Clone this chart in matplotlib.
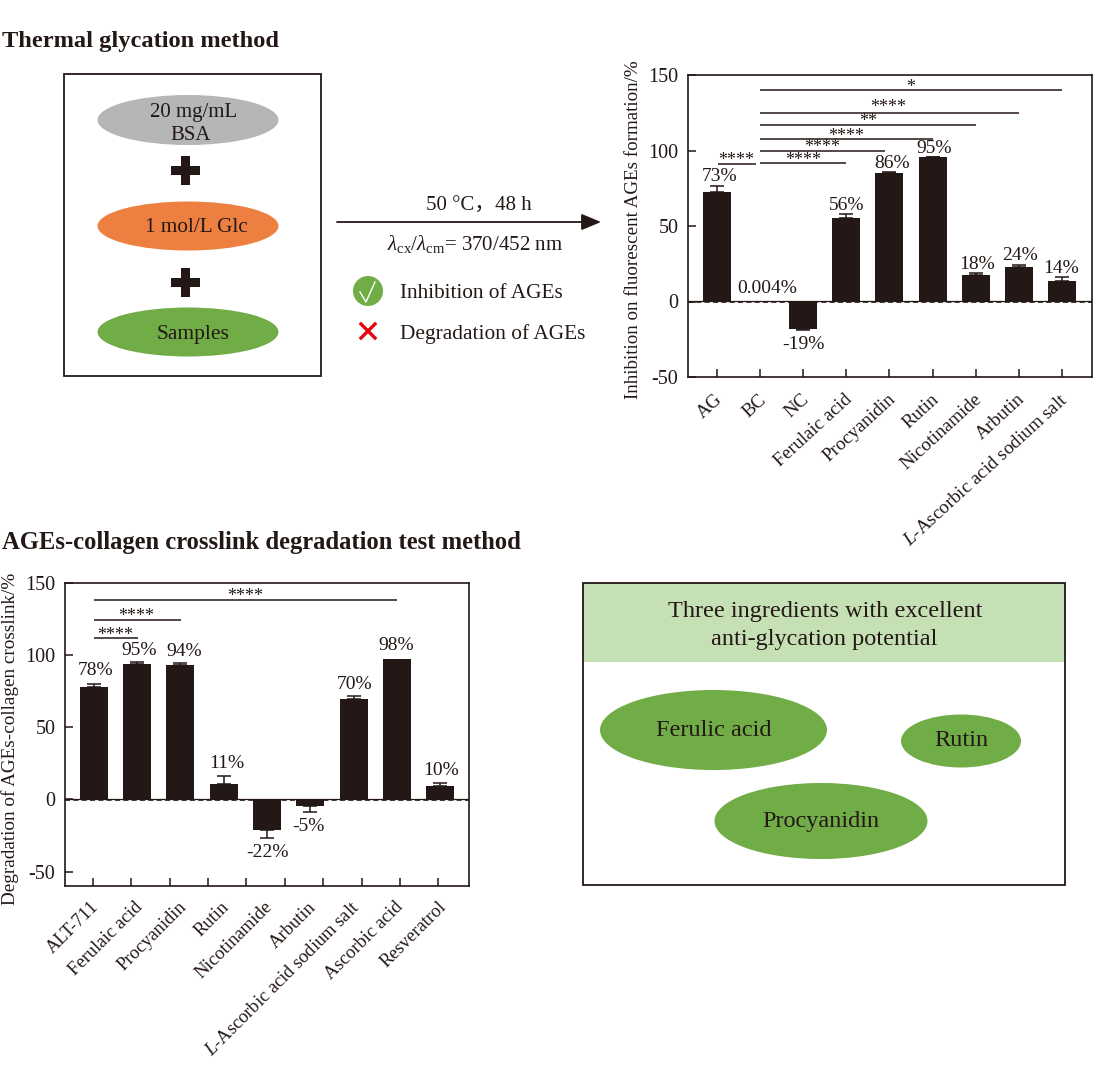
import numpy as np
import matplotlib
matplotlib.use("Agg")
import matplotlib.pyplot as plt
from matplotlib.patches import Ellipse, Rectangle, Circle
from matplotlib.transforms import ScaledTranslation

plt.rcParams['font.family'] = ['Liberation Serif', 'Noto Sans CJK SC', 'DejaVu Sans']
plt.rcParams['mathtext.fontset'] = 'custom'
plt.rcParams['mathtext.rm'] = 'Liberation Serif'
plt.rcParams['mathtext.it'] = 'Liberation Serif:italic'
plt.rcParams['mathtext.bf'] = 'Liberation Serif:bold'
plt.rcParams['axes.unicode_minus'] = False

DARK = '#231815'
GREEN = '#70ad47'
ORANGE = '#ed8040'
GREY = '#b5b6b6'
LIGHT_GREEN = '#c5e0b4'
RED = '#e60012'

# top chart
inh_labels = ['AG', 'BC', 'NC', 'Ferulaic acid', 'Procyanidin', 'Rutin', 'Nicotinamide', 'Arbutin',
              r'$\mathit{L}$-Ascorbic acid sodium salt']
inh_values = [72.5, 0, -18.5, 55.3, 85.2, 95.4, 17.4, 23.1, 13.4]
inh_err = [4.2, 0, 0.7, 2.7, 0.8, 0.4, 1.6, 1.3, 2.9]
inh_text = ['73%', '0.004%', '-19%', '56%', '86%', '95%', '18%', '24%', '14%']
inh_text_x = [0.06, 1.18, 2.01, 3.01, 4.07, 5.03, 6.02, 7.03, 7.97]
inh_text_y = [83, 8.5, -28.5, 63.5, 91.5, 101, 24.5, 30.5, 22]
# significance brackets: x0, x1, line y, star x, star y, stars
inh_sig_x0 = [0.02, 1, 1, 1, 1, 1, 1]
inh_sig_x1 = [0.9, 3, 3.9, 5, 6, 7, 8]
inh_sig_y = [91, 91.6, 100, 107.5, 116.7, 125, 139.9]
inh_sig_tx = [0.46, 2.0, 2.45, 3.0, 3.5, 3.98, 4.5]
inh_sig_ty = [93.5, 93.5, 102, 109.5, 119, 128.5, 141.5]
inh_sig_s = ['****', '****', '****', '****', '**', '****', '*']

# bottom chart
deg_labels = ['ALT-711', 'Ferulaic acid', 'Procyanidin', 'Rutin', 'Nicotinamide', 'Arbutin',
              r'$\mathit{L}$-Ascorbic acid sodium salt', 'Ascorbic acid', 'Resveratrol']
deg_values = [77.4, 93.8, 92.9, 10.8, -21.2, -4.4, 69.1, 97, 9.2]
deg_err = [2.6, 1.2, 1.6, 5.6, 5.8, 4.6, 2.3, 0, 1.8]
deg_text = ['78%', '95%', '94%', '11%', '-22%', '-5%', '70%', '98%', '10%']
deg_text_x = [0.04, 1.05, 2.09, 3.06, 4.0, 4.95, 6.02, 6.99, 8.02]
deg_text_y = [89, 103, 102.5, 25, -37, -18.5, 79.5, 106.5, 20]
deg_sig_x1 = [1.03, 2.02, 7.0]
deg_sig_y = [111.5, 124.2, 137.8]
deg_sig_tx = [0.49, 0.98, 3.5]
deg_sig_ty = [113.5, 126.5, 140]
deg_ticks = np.arange(10) * 0.886 - 0.02

W, H = 1100, 1073
fig = plt.figure(figsize=(W / 100, H / 100), dpi=100)

# whole-figure overlay in pixel coordinates for the schematic parts
bg = fig.add_axes([0, 0, 1, 1])
bg.set_xlim(0, W)
bg.set_ylim(H, 0)
bg.axis('off')


def make_axes(left, top, right, bottom):
    return fig.add_axes([left / W, 1 - bottom / H, (right - left) / W, (bottom - top) / H])


def draw_bars(ax, values, err, text, text_x, text_y):
    x = np.arange(len(values))
    ax.bar(x, values, width=0.65, color=DARK, zorder=2)
    # zero line: thin solid one with a dashed one right under it
    ax.axhline(0.3, color=DARK, lw=0.9, zorder=3)
    ax.axhline(-0.3, color=DARK, lw=1.2, ls=(0, (3, 2)), zorder=3)
    v = np.array(values)
    e = np.array(err)
    lower = np.where(v < 0, e, 0)
    upper = np.where(v >= 0, e, 0)
    keep = e > 0
    ax.errorbar(x[keep], v[keep], yerr=[lower[keep], upper[keep]], fmt='none', ecolor=DARK,
                elinewidth=1.1, capsize=5, capthick=1.1, zorder=2)
    for tx, ty, s in zip(text_x, text_y, text):
        ax.text(tx, ty, s, ha='center', va='center', fontsize=14, color=DARK)
    ax.set_yticks([-50, 0, 50, 100, 150])
    ax.tick_params(axis='y', direction='in', length=6, width=1.1, labelsize=14.5, colors=DARK, pad=7)
    for sp in ax.spines.values():
        sp.set_linewidth(1.2)
        sp.set_color(DARK)


def draw_sig(ax, x0, x1, y, tx, ty, s):
    for a, b, c, d, e, f in zip(x0, x1, y, tx, ty, s):
        ax.plot([a, b], [c, c], color=DARK, lw=1.1, solid_capstyle='butt', zorder=3)
        ax.text(d, e, f, ha='center', va='center', fontsize=13, color=DARK)


def shift_labels(ax, dx):
    # move rotated labels sideways, dx in pixels
    off = ScaledTranslation(dx / 100, 0, fig.dpi_scale_trans)
    for lab in ax.get_xticklabels():
        lab.set_transform(lab.get_transform() + off)


ax1 = make_axes(688, 75, 1092, 377)
draw_bars(ax1, inh_values, inh_err, inh_text, inh_text_x, inh_text_y)
draw_sig(ax1, inh_sig_x0, inh_sig_x1, inh_sig_y, inh_sig_tx, inh_sig_ty, inh_sig_s)
ax1.set_xlim(-0.664, 8.69)
ax1.set_ylim(-50, 150)
ax1.set_xticks(np.arange(9))
ax1.set_xticklabels(inh_labels, rotation=42.5, ha='right', va='top', rotation_mode='anchor', fontsize=13.7, color=DARK)
ax1.tick_params(axis='x', direction='in', length=6, width=1.1, pad=10, colors=DARK)
shift_labels(ax1, -2)

ax2 = make_axes(65, 582.5, 469, 886)
draw_bars(ax2, deg_values, deg_err, deg_text, deg_text_x, deg_text_y)
draw_sig(ax2, [0] * 3, deg_sig_x1, deg_sig_y, deg_sig_tx, deg_sig_ty, ['****'] * 3)
ax2.set_xlim(-0.662, 8.66)
ax2.set_ylim(-60, 150)
# the tick marks in the figure do not sit under the bars, the labels do
ax2.set_xticks(np.arange(9))
ax2.set_xticklabels(deg_labels, rotation=45, ha='right', va='top', rotation_mode='anchor', fontsize=13.3, color=DARK)
ax2.set_xticks(deg_ticks, minor=True)
ax2.xaxis.remove_overlapping_locs = False
ax2.tick_params(axis='x', which='major', length=0, pad=9, colors=DARK)
ax2.tick_params(axis='x', which='minor', direction='in', length=6, width=1.1, colors=DARK)
shift_labels(ax2, -3)

bg.text(634, 229.5, 'Inhibition on fluorescent AGEs formation/%', rotation=90, ha='center', va='center',
        fontsize=13.7, color=DARK)
bg.text(10, 739, 'Degradation of AGEs-collagen crosslink/%', rotation=90, ha='center', va='center',
        fontsize=13.8, color=DARK)

# section titles
bg.text(2, 41, 'Thermal glycation method', fontsize=17.6, fontweight='bold', va='center', color=DARK)
bg.text(2, 543, 'AGEs-collagen crosslink degradation test method', fontsize=17.7, fontweight='bold',
        va='center', color=DARK)

# reaction box
bg.add_patch(Rectangle((63.5, 74), 257.5, 302, fc='none', ec=DARK, lw=1.3))
for cy, h, c in zip([120, 226, 332], [50, 49, 49], [GREY, ORANGE, GREEN]):
    bg.add_patch(Ellipse((188, cy), 181, h, fc=c, ec='none'))
for cy in [170, 282]:
    bg.add_patch(Rectangle((171, cy - 4.5), 29, 9, fc=DARK, ec='none'))
    bg.add_patch(Rectangle((181, cy - 14.5), 9, 29, fc=DARK, ec='none'))
bg.text(194, 112, '20 mg/mL', ha='center', va='center', fontsize=15, color=DARK)
bg.text(191, 136, 'BSA', ha='center', va='center', fontsize=15, color=DARK)
bg.text(196, 228, '1 mol/L Glc', ha='center', va='center', fontsize=15.2, color=DARK)
bg.text(193, 334, 'Samples', ha='center', va='center', fontsize=15.5, color=DARK)

# arrow and conditions
bg.annotate('', xy=(601, 222), xytext=(337, 222),
            arrowprops=dict(arrowstyle='-|>,head_length=0.6,head_width=0.25', color=DARK, lw=1.3,
                            shrinkA=0, shrinkB=0, mutation_scale=20))
bg.text(479, 206, '50 °C，48 h', ha='center', va='center', fontsize=15, color=DARK)
bg.text(475, 244, r'$\mathit{\lambda}_{\mathrm{cx}}/\mathit{\lambda}_{\mathrm{cm}}$= 370/452 nm', ha='center',
        va='center', fontsize=15, color=DARK)

bg.add_patch(Circle((368, 291), 15, fc=GREEN, ec='none'))
bg.plot([360, 366, 375], [292, 302, 282], color='white', lw=1.0)
bg.plot([361, 375], [324, 338], color=RED, lw=2.4)
bg.plot([375, 361], [324, 338], color=RED, lw=2.4)
bg.text(400, 294, 'Inhibition of AGEs', va='center', fontsize=15.3, color=DARK)
bg.text(400, 334, 'Degradation of AGEs', va='center', fontsize=15.4, color=DARK)

# result box
bg.add_patch(Rectangle((583, 583), 482, 79, fc=LIGHT_GREEN, ec='none'))
bg.add_patch(Rectangle((583, 583), 482, 302, fc='none', ec=DARK, lw=1.3))
bg.text(825, 611, 'Three ingredients with excellent', ha='center', va='center', fontsize=17.5, color=DARK)
bg.text(824, 639, 'anti-glycation potential', ha='center', va='center', fontsize=17.5, color=DARK)
for cx, cy, w, h, s in zip([713.5, 961, 821], [730, 741, 821], [227, 120, 213], [80, 53, 76],
                           ['Ferulic acid', 'Rutin', 'Procyanidin']):
    bg.add_patch(Ellipse((cx, cy), w, h, fc=GREEN, ec='none'))
    bg.text(cx, cy, s, ha='center', va='center', fontsize=17.5, color=DARK)

plt.savefig('out.png', dpi=100)
